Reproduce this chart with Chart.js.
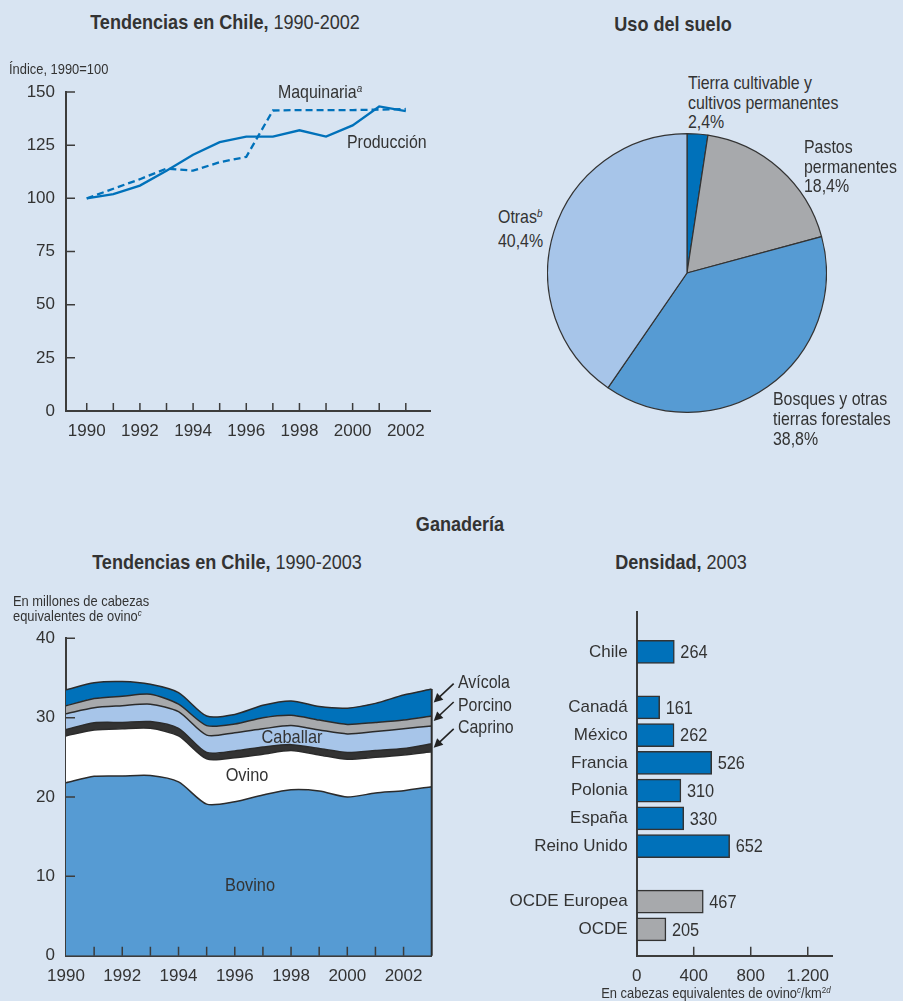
<!DOCTYPE html>
<html><head><meta charset="utf-8">
<script src="https://cdn.jsdelivr.net/npm/chart.js@4.4.1/dist/chart.umd.min.js"></script>
<style>
html,body{margin:0;padding:0;background:#D8E4F2;}
#page{position:relative;width:903px;height:1001px;overflow:hidden;background:#D8E4F2;font-family:'Liberation Sans',Arial,sans-serif;color:#333;}
canvas{position:absolute;}
.t{position:absolute;white-space:nowrap;transform:scaleX(0.86);transform-origin:0 50%;}
.t.c{transform:translateX(-50%) scaleX(0.86);transform-origin:50% 50%;}
.h{font-size:21px;line-height:24px;}
.h b{font-weight:bold;}
.s15{font-size:15px;line-height:15px;}
.s18{font-size:18.5px;line-height:20px;}
.s19{font-size:19px;line-height:22px;}
sup{font-style:italic;font-size:0.62em;vertical-align:0;position:relative;top:-0.55em;}
</style></head>
<body><div id="page">
<canvas id="c1" width="450" height="400" style="left:0;top:60px"></canvas>
<canvas id="c2" width="280" height="280" style="left:547px;top:133px"></canvas>
<canvas id="c3" width="500" height="421" style="left:0;top:580px"></canvas>
<canvas id="c4" width="403" height="421" style="left:500px;top:580px"></canvas>

<div class="t c h" style="left:225px;top:10px"><b>Tendencias en Chile,</b> 1990-2002</div>
<div class="t c h" style="left:673px;top:12px"><b>Uso del suelo</b></div>
<div class="t c h" style="left:460px;top:512px"><b>Ganadería</b></div>
<div class="t c h" style="left:227px;top:550px"><b>Tendencias en Chile,</b> 1990-2003</div>
<div class="t c h" style="left:681px;top:550px"><b>Densidad,</b> 2003</div>

<div class="t s15" style="left:9px;top:61px">Índice, 1990=100</div>
<div class="t s18" style="left:278px;top:82px">Maquinaria<sup>a</sup></div>
<div class="t s18" style="left:347px;top:132px">Producción</div>

<div class="t s18" style="left:688px;top:73px;line-height:19.5px">Tierra cultivable y<br>cultivos permanentes<br>2,4%</div>
<div class="t s18" style="left:804px;top:137px;line-height:19.5px">Pastos<br>permanentes<br>18,4%</div>
<div class="t s18" style="left:498px;top:206px;line-height:21px">Otras<sup>b</sup><br>40,4%</div>
<div class="t s18" style="left:773px;top:389px;line-height:20px">Bosques y otras<br>tierras forestales<br>38,8%</div>

<div class="t s15" style="left:13px;top:593px">En millones de cabezas<br>equivalentes de ovino<sup>c</sup></div>
<div class="t c s19" style="left:292px;top:726px">Caballar</div>
<div class="t c s19" style="left:247px;top:764px">Ovino</div>
<div class="t c s19" style="left:250px;top:874px">Bovino</div>
<div class="t s18" style="left:458px;top:672px">Avícola</div>
<div class="t s18" style="left:458px;top:695px">Porcino</div>
<div class="t s18" style="left:458px;top:717px">Caprino</div>

<div class="t c s15" style="left:716px;top:985px">En cabezas equivalentes de ovino<sup>c</sup>/km<sup style="font-style:normal">2</sup><sup>d</sup></div>
</div>
<script>
// ---------- DATA ----------
const lineYears = [1990,1991,1992,1993,1994,1995,1996,1997,1998,1999,2000,2001,2002];
const produccion = [100,102,106,113,120.5,126.4,129,129,132,129,134.3,143.2,141];
const maquinaria = [100,104.5,109,114,113,117,119.5,141.3,141.5,141.5,141.5,141.7,142];

const pieLabels = ['Tierra cultivable y cultivos permanentes','Pastos permanentes','Bosques y otras tierras forestales','Otras'];
const pieValues = [2.4,18.4,38.8,40.4];

const areaYears = [1990,1991,1992,1993,1994,1995,1996,1997,1998,1999,2000,2001,2002,2003];
const bovino   = [21.8,22.6,22.65,22.7,21.9,19.1,19.4,20.25,20.9,20.75,20.0,20.5,20.8,21.3];
const ovino    = [5.9,5.85,5.95,5.95,5.8,5.7,5.55,5.15,4.95,4.55,4.75,4.5,4.5,4.4];
const caprino  = [0.8,0.9,0.8,0.85,0.95,0.8,0.85,0.9,0.75,0.8,0.85,0.85,0.8,1.0];
const caballar = [2.0,1.9,2.1,2.2,2.1,2.2,2.3,2.3,2.4,2.35,2.35,2.4,2.5,2.25];
const porcino  = [1.0,1.15,1.2,1.25,0.95,1.2,1.1,1.4,1.3,1.25,1.2,1.15,1.1,1.25];
const avicola  = [2.0,2.0,1.85,1.25,1.45,1.2,1.2,1.55,1.8,1.7,2.05,2.4,3.15,3.4];

const densityLabels = ['Chile','','Canadá','México','Francia','Polonia','España','Reino Unido','','OCDE Europea','OCDE'];
const densityValues = [264,null,161,262,526,310,330,652,null,467,205];
const aggregateLabels = ['OCDE Europea','OCDE'];
const densityTicks = [0,400,800,1200];

// ---------- STYLE ----------
const FONT = "'Liberation Sans',Arial,sans-serif";
const TXT = '#333333';
const AXIS = '#3c3c3c';
const DARKBLUE = '#0071BA', MIDBLUE = '#569BD3', LIGHTBLUE = '#A7C5E9', GREY = '#A7A9AC';
Chart.defaults.font.family = FONT;
Chart.defaults.font.size = 17;
Chart.defaults.color = TXT;
Chart.defaults.animation = false;
Chart.defaults.plugins.legend.display = false;
Chart.defaults.plugins.tooltip.enabled = false;

function inwardTicks(id, scaleId, values, len){
  return {id, afterDraw(chart){
    const s = chart.scales[scaleId], a = chart.chartArea, ctx = chart.ctx;
    ctx.save(); ctx.strokeStyle = AXIS; ctx.lineWidth = 1.5; ctx.beginPath();
    values.forEach(v => {
      const p = s.getPixelForValue(v);
      if (s.isHorizontal()) { ctx.moveTo(p, a.bottom); ctx.lineTo(p, a.bottom - len); }
      else { ctx.moveTo(a.left, p); ctx.lineTo(a.left + len, p); }
    });
    ctx.stroke(); ctx.restore();
  }};
}
const border = {display:true, color:AXIS, width:2};

// ---------- CHART 1: line ----------
new Chart(document.getElementById('c1'), {
  type:'line',
  data:{datasets:[
    {data: lineYears.map((y,i)=>({x:y,y:produccion[i]})), borderColor:DARKBLUE, borderWidth:2.3, pointRadius:0, tension:0},
    {data: lineYears.map((y,i)=>({x:y,y:maquinaria[i]})), borderColor:DARKBLUE, borderWidth:2.3, borderDash:[7,4], pointRadius:0, tension:0}
  ]},
  options:{
    responsive:false,
    layout:{padding:{top:32,right:20,left:0,bottom:0}},
    scales:{
      x:{type:'linear', min:1989.22, max:2002.91, grid:{display:false, drawTicks:false}, border,
         afterBuildTicks(s){ s.ticks = lineYears.map(v=>({value:v})); },
         ticks:{autoSkip:false, maxRotation:0, padding:10, callback:v => v%2===0 ? String(v) : ''},
         afterFit(s){ s.height = 49; }},
      y:{min:0, max:150, grid:{display:false, drawTicks:false}, border,
         ticks:{stepSize:25, padding:11},
         afterFit(s){ s.width = 66; }}
    }
  },
  plugins:[inwardTicks('t1x','x',lineYears,8), inwardTicks('t1y','y',[25,50,75,100,125,150],9)]
});

// ---------- CHART 2: pie ----------
new Chart(document.getElementById('c2'), {
  type:'pie',
  data:{labels:pieLabels, datasets:[{data:pieValues, backgroundColor:[DARKBLUE,GREY,MIDBLUE,LIGHTBLUE], borderColor:'#333', borderWidth:1.2}]},
  options:{responsive:false, layout:{padding:0}}
});

// ---------- CHART 3: stacked area ----------
const layers = [
  {d:bovino, c:MIDBLUE}, {d:ovino, c:'#FFFFFF'}, {d:caprino, c:'#333333'},
  {d:caballar, c:LIGHTBLUE}, {d:porcino, c:GREY}, {d:avicola, c:DARKBLUE}
];
function cumulative(k, i){ let s=0; for(let j=0;j<=k;j++) s+=layers[j].d[i]; return s; }
const areaDecor = {id:'areaDecor', afterDatasetsDraw(chart){
  const x = chart.scales.x, y = chart.scales.y, ctx = chart.ctx, last = areaYears.length-1;
  const xr = x.getPixelForValue(areaYears[last]);
  ctx.save(); ctx.strokeStyle = '#2b2b2b'; ctx.lineWidth = 2;
  ctx.beginPath(); ctx.moveTo(xr, y.getPixelForValue(0)); ctx.lineTo(xr, y.getPixelForValue(cumulative(5,last))); ctx.stroke();
  [5,4,2].forEach(k => {
    const mid = (cumulative(k,last)+cumulative(k-1,last))/2;
    const tx = xr + 2, ty = y.getPixelForValue(mid);
    const fx = tx + 20, fy = ty - 19;
    ctx.strokeStyle = '#222'; ctx.fillStyle = '#222'; ctx.lineWidth = 1.6;
    ctx.beginPath(); ctx.moveTo(fx,fy); ctx.lineTo(tx+4, ty-4); ctx.stroke();
    const ang = Math.atan2(ty-fy, tx-fx), L = 9, W = 4.5;
    ctx.beginPath(); ctx.moveTo(tx,ty);
    ctx.lineTo(tx - L*Math.cos(ang) + W*Math.sin(ang), ty - L*Math.sin(ang) - W*Math.cos(ang));
    ctx.lineTo(tx - L*Math.cos(ang) - W*Math.sin(ang), ty - L*Math.sin(ang) + W*Math.cos(ang));
    ctx.closePath(); ctx.fill();
  });
  ctx.restore();
}};
new Chart(document.getElementById('c3'), {
  type:'line',
  data:{datasets: layers.map((L,k)=>({
    data: areaYears.map((yr,i)=>({x:yr, y:L.d[i]})),
    backgroundColor:L.c, borderColor:'#2b2b2b', borderWidth:1.5, pointRadius:0, tension:0.25,
    fill: k===0 ? 'origin' : '-1'
  }))},
  options:{
    responsive:false,
    layout:{padding:{top:58.3,right:68.3,left:0,bottom:0}},
    scales:{
      x:{type:'linear', min:1990, max:2003, grid:{display:false, drawTicks:false}, border,
         afterBuildTicks(s){ s.ticks = areaYears.map(v=>({value:v})); },
         ticks:{autoSkip:false, maxRotation:0, padding:10, callback:v => v%2===0 && v<2003 ? String(v) : ''},
         afterFit(s){ s.height = 45.3; }},
      y:{stacked:true, min:0, max:40, grid:{display:false, drawTicks:false}, border,
         ticks:{stepSize:10, padding:11},
         afterFit(s){ s.width = 66; }}
    }
  },
  plugins:[areaDecor, inwardTicks('t3x','x',areaYears.slice(1,-1),9), inwardTicks('t3y','y',[10,20,30,40],9)]
});

// ---------- CHART 4: horizontal bars ----------
const barPoints = [], barColors = [];
densityValues.forEach((v,i)=>{ if(v!==null){ barPoints.push({x:v, y:i}); barColors.push(aggregateLabels.includes(densityLabels[i]) ? GREY : DARKBLUE); } });
const barValueLabels = {id:'barValueLabels', afterDatasetsDraw(chart){
  const ctx = chart.ctx, meta = chart.getDatasetMeta(0);
  ctx.save(); ctx.fillStyle = TXT; ctx.font = '19px ' + FONT; ctx.textBaseline = 'middle'; ctx.textAlign = 'left';
  meta.data.forEach((bar,i)=>{
    ctx.save(); ctx.translate(bar.x + 6, bar.y + 1); ctx.scale(0.86,1);
    ctx.fillText(String(barPoints[i].x), 0, 0); ctx.restore();
  });
  ctx.restore();
}};
new Chart(document.getElementById('c4'), {
  type:'bar',
  data:{datasets:[{data:barPoints, backgroundColor:barColors, borderColor:'#333', borderWidth:1.5, borderSkipped:false, barThickness:23}]},
  options:{
    indexAxis:'y', responsive:false,
    layout:{padding:{top:32,right:70.3,left:0,bottom:0}},
    scales:{
      x:{type:'linear', min:0, max:1375, grid:{display:false, drawTicks:false}, border,
         afterBuildTicks(s){ s.ticks = densityTicks.map(v=>({value:v})); },
         ticks:{padding:10, callback:v => String(v).replace(/\B(?=(\d{3})+(?!\d))/g,'.')},
         afterFit(s){ s.height = 45.3; }},
      y:{type:'linear', reverse:true, offset:false, min:-1.44, max:densityLabels.length-1+0.95, grid:{display:false, drawTicks:false}, border,
         afterBuildTicks(s){ s.ticks = densityLabels.map((l,i)=>({value:i})).filter(t=>densityLabels[t.value]!==''); },
         ticks:{autoSkip:false, padding:9, callback:v => densityLabels[v]},
         afterFit(s){ s.width = 136.7; }}
    }
  },
  plugins:[barValueLabels, inwardTicks('t4x','x',densityTicks.slice(1),9)]
});
</script>
</body></html>
